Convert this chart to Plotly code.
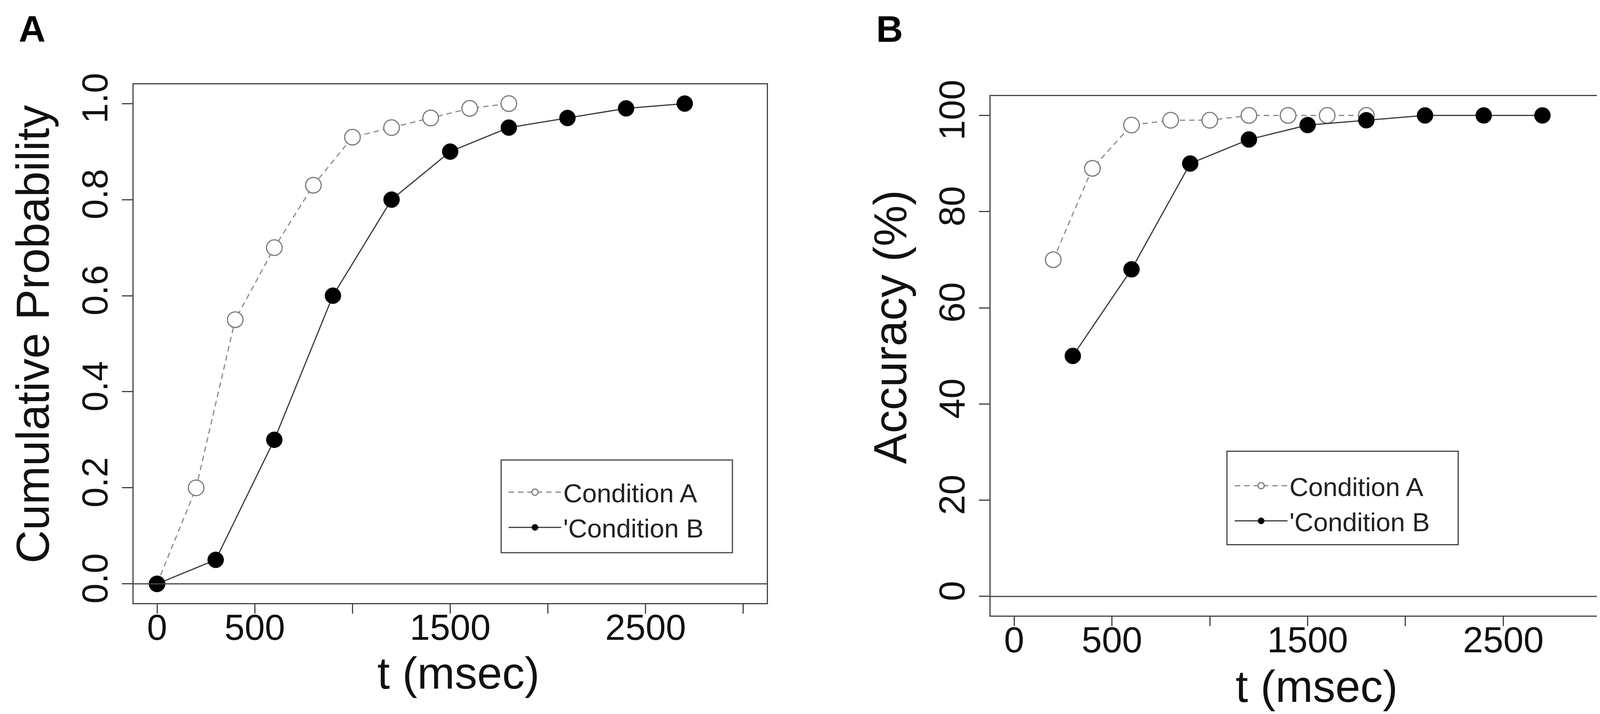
import plotly.graph_objects as go

# panel A: cumulative probability of response time
t_a_cond_a = [0, 200, 400, 600, 800, 1000, 1200, 1400, 1600, 1800]
p_cond_a = [0.0, 0.20, 0.55, 0.70, 0.83, 0.93, 0.95, 0.97, 0.99, 1.00]
t_a_cond_b = [0, 300, 600, 900, 1200, 1500, 1800, 2100, 2400, 2700]
p_cond_b = [0.0, 0.05, 0.30, 0.60, 0.80, 0.90, 0.95, 0.97, 0.99, 1.00]

# panel B: accuracy
t_b_cond_a = [200, 400, 600, 800, 1000, 1200, 1400, 1600, 1800]
acc_cond_a = [70, 89, 98, 99, 99, 100, 100, 100, 100]
t_b_cond_b = [300, 600, 900, 1200, 1500, 1800, 2100, 2400, 2700]
acc_cond_b = [50, 68, 90, 95, 98, 99, 100, 100, 100]

x_tickvals = [0, 500, 1000, 1500, 2000, 2500, 3000]
x_ticktext = ["0", "500", "", "1500", "", "2500", ""]
ya_tickvals = [0, 0.2, 0.4, 0.6, 0.8, 1.0]
ya_ticktext = ["0.0", "0.2", "0.4", "0.6", "0.8", "1.0"]
yb_tickvals = [0, 20, 40, 60, 80, 100]

names = ["Condition A", "'Condition B"]

W, H = 4175, 1828
FONT = "Liberation Sans, Arial, sans-serif"
AX = "#444444"
TXT = "#111111"


def px_x(v):
    return v / W


def px_y(v):
    return 1 - v / H


fig = go.Figure()


def add_pair(xa, ya, xb, yb, xref, yref, legend):
    fig.add_trace(go.Scatter(
        x=xa, y=ya, mode="lines+markers", name=names[0],
        xaxis=xref, yaxis=yref, legend=legend,
        line=dict(color="#8a8a8a", width=3, dash="14px,10px"),
        marker=dict(symbol="circle", size=40, color="white",
                    line=dict(color="#7a7a7a", width=3))))
    fig.add_trace(go.Scatter(
        x=xb, y=yb, mode="lines+markers", name=names[1],
        xaxis=xref, yaxis=yref, legend=legend,
        line=dict(color="#3a3a3a", width=3),
        marker=dict(symbol="circle", size=41, color="black",
                    line=dict(color="black", width=1))))


add_pair(t_a_cond_a, p_cond_a, t_a_cond_b, p_cond_b, "x", "y", "legend")
add_pair(t_b_cond_a, acc_cond_a, t_b_cond_b, acc_cond_b, "x2", "y2", "legend2")

common_x = dict(
    range=[-120, 3120], tickvals=x_tickvals, ticktext=x_ticktext,
    ticks="outside", ticklen=24, tickwidth=3, tickcolor=AX,
    ticklabelstandoff=-45,
    showline=True, linecolor=AX, linewidth=3, mirror=True,
    showgrid=False, zeroline=False,
    tickfont=dict(family=FONT, size=93, color=TXT),
)
common_y = dict(
    ticks="outside", ticklen=27, tickwidth=3, tickcolor=AX, tickangle=-90,
    ticklabelstandoff=0,
    showline=True, linecolor=AX, linewidth=3, mirror=True,
    showgrid=False, zeroline=False,
    tickfont=dict(family=FONT, size=93, color=TXT),
)

legend_style = dict(xanchor="left", yanchor="top", bgcolor="rgba(0,0,0,0)",
                    borderwidth=0, itemwidth=135,
                    font=dict(family=FONT, size=67, color="#222222"))

fig.update_layout(
    width=W, height=H,
    margin=dict(l=0, r=0, t=0, b=0),
    paper_bgcolor="white", plot_bgcolor="white",
    showlegend=True,
    xaxis=dict(common_x, domain=[px_x(334), px_x(1955)], anchor="y"),
    yaxis=dict(common_y, domain=[px_y(1530), px_y(170)], anchor="x",
               range=[-0.04, 1.04], tickvals=ya_tickvals, ticktext=ya_ticktext),
    xaxis2=dict(common_x, domain=[px_x(2528), px_x(4151)], anchor="y2"),
    yaxis2=dict(common_y, domain=[px_y(1563), px_y(201)], anchor="x2",
                range=[-4, 104], tickvals=yb_tickvals),
    legend=dict(legend_style, x=px_x(1289), y=px_y(1188)),
    legend2=dict(legend_style, x=px_x(3148), y=px_y(1171)),
)

# reference line at zero in both panels
fig.add_shape(type="line", xref="x domain", yref="y", x0=0, x1=1, y0=0, y1=0,
              line=dict(color=AX, width=3))
fig.add_shape(type="line", xref="x2 domain", yref="y2", x0=0, x1=1, y0=0, y1=0,
              line=dict(color=AX, width=3))

# legend frames
fig.add_shape(type="rect", xref="paper", yref="paper",
              x0=px_x(1275), x1=px_x(1867), y0=px_y(1398), y1=px_y(1155),
              line=dict(color=AX, width=3))
fig.add_shape(type="rect", xref="paper", yref="paper",
              x0=px_x(3133), x1=px_x(3725), y0=px_y(1377), y1=px_y(1132),
              line=dict(color=AX, width=3))

# axis titles
xtitle_font = dict(family=FONT, size=115, color=TXT)
ytitle_font = dict(family=FONT, size=118, color=TXT)
for xt, yt in [(1165, 1713), (3362, 1748)]:
    fig.add_annotation(text="t (msec)", xref="paper", yref="paper",
                       x=px_x(xt), y=px_y(yt), xanchor="center", yanchor="middle",
                       showarrow=False, font=xtitle_font)
for text, xt, yt in [("Cumulative Probability", 76, 825), ("Accuracy (%)", 2271, 806)]:
    fig.add_annotation(text=text, xref="paper", yref="paper", textangle=-90,
                       x=px_x(xt), y=px_y(yt), xanchor="center", yanchor="middle",
                       showarrow=False, font=ytitle_font)

# panel letters
for letter, xl in [("A", 38), ("B", 2233)]:
    fig.add_annotation(text="<b>%s</b>" % letter, xref="paper", yref="paper",
                       x=px_x(xl), y=px_y(25), xanchor="left", yanchor="middle",
                       showarrow=False,
                       font=dict(family=FONT, size=95, color="black"))

fig.write_html("out.html")
